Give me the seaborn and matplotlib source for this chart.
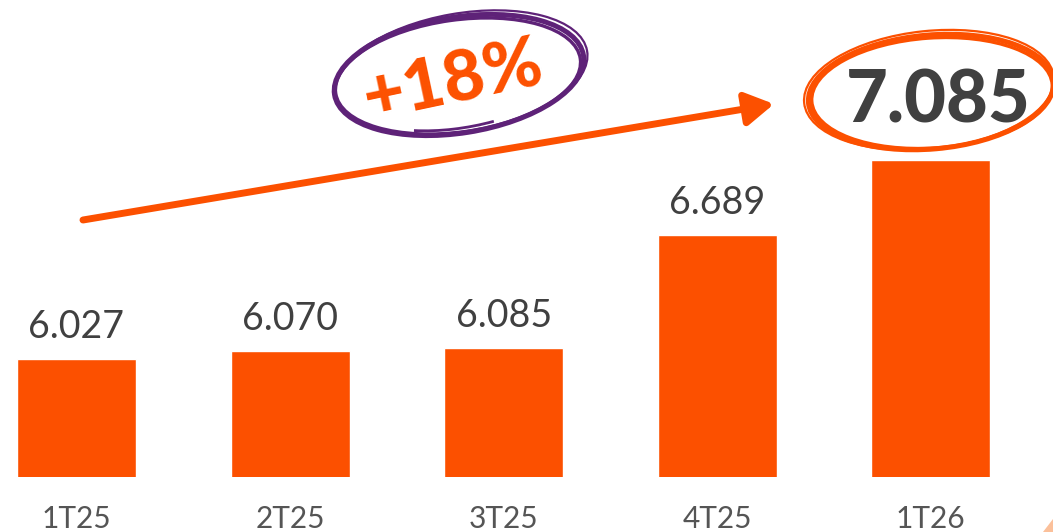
import matplotlib
matplotlib.use('Agg')
import matplotlib.pyplot as plt
import matplotlib.transforms as mtransforms
from matplotlib.patches import Ellipse, Arc, Polygon
import seaborn as sns
import pandas as pd

# ---- data ----
categories = ['1T25', '2T25', '3T25', '4T25', '1T26']
values = [6.027, 6.070, 6.085, 6.689, 7.085]
value_labels = ['6.027', '6.070', '6.085', '6.689', '7.085']
growth_label = '+18%'

ORANGE = '#FC5000'
PURPLE = '#5E2278'
DARK = '#404040'
TICK = '#555555'

sns.set_theme(style='white')
plt.rcParams['font.family'] = ['Lato', 'DejaVu Sans']

W, H = 1053, 532
fig = plt.figure(figsize=(W / 100, H / 100), dpi=100)
fig.patch.set_facecolor('white')
ax = fig.add_axes([0, 55 / H, 1, 477 / H])
ax.set_facecolor('white')

df = pd.DataFrame({'cat': categories, 'val': values})
sns.barplot(data=df, x='cat', y='val', color=ORANGE, saturation=1,
            width=0.557, ax=ax)
ax.set_xlim(-0.358, 4.572)
ax.set_ylim(5.4, 7.937)

for s in ax.spines.values():
    s.set_visible(False)
ax.set_yticks([])
ax.set_xlabel('')
ax.set_ylabel('')
ax.tick_params(axis='x', length=0, pad=20, labelsize=21.5, labelcolor=TICK)

# value labels
for i, (v, lab) in enumerate(zip(values, value_labels)):
    if i < len(values) - 1:
        ax.text(i, v + 0.112, lab, ha='center', va='baseline', fontsize=27,
                fontweight='normal', color=DARK)
    else:
        ax.text(i + 0.035, 7.288, lab, ha='center', va='baseline', fontsize=52,
                fontweight='black', color=DARK)

# pixel-coordinate transform (image coords, y down)
T = mtransforms.Affine2D().scale(1 / W, -1 / H).translate(0, 1) + fig.transFigure

# trend arrow
ax.annotate('', xy=(774, 104), xytext=(83, 220), xycoords=T, textcoords=T,
            arrowprops=dict(arrowstyle='-|>,head_length=0.85,head_width=0.5',
                            lw=5, color=ORANGE, mutation_scale=20,
                            shrinkA=0, shrinkB=0))

# hand-drawn purple ellipse
for (cx, cy, w, h, ang, lw) in [(459, 75, 252, 116, -9, 3.6),
                                (458, 76, 247, 112, -8, 2.4),
                                (461, 73, 256, 119, -10, 1.6)]:
    fig.add_artist(Ellipse((cx, cy), w, h, angle=ang, fill=False, lw=lw,
                           ec=PURPLE, transform=T))
fig.add_artist(Arc((463, 70), 250, 114, angle=-11, theta1=70, theta2=140,
                   lw=2, color=PURPLE, transform=T))

fig.text(453, 82, growth_label, transform=T, rotation=12, ha='center',
         va='center', fontsize=51, fontweight='black', color=ORANGE)

# hand-drawn orange ellipse
for (cx, cy, w, h, ang, lw) in [(931, 92, 246, 114, -5, 3.6),
                                (932, 93, 241, 110, -4, 2.4),
                                (929, 90, 251, 118, -6, 1.6)]:
    fig.add_artist(Ellipse((cx, cy), w, h, angle=ang, fill=False, lw=lw,
                           ec=ORANGE, transform=T))

# corner decoration
fig.add_artist(Polygon([(1043, 532), (1053, 532), (1053, 519)], closed=True,
                       transform=T, color='#FBC09A', lw=0))

fig.savefig('out.png', dpi=100)
